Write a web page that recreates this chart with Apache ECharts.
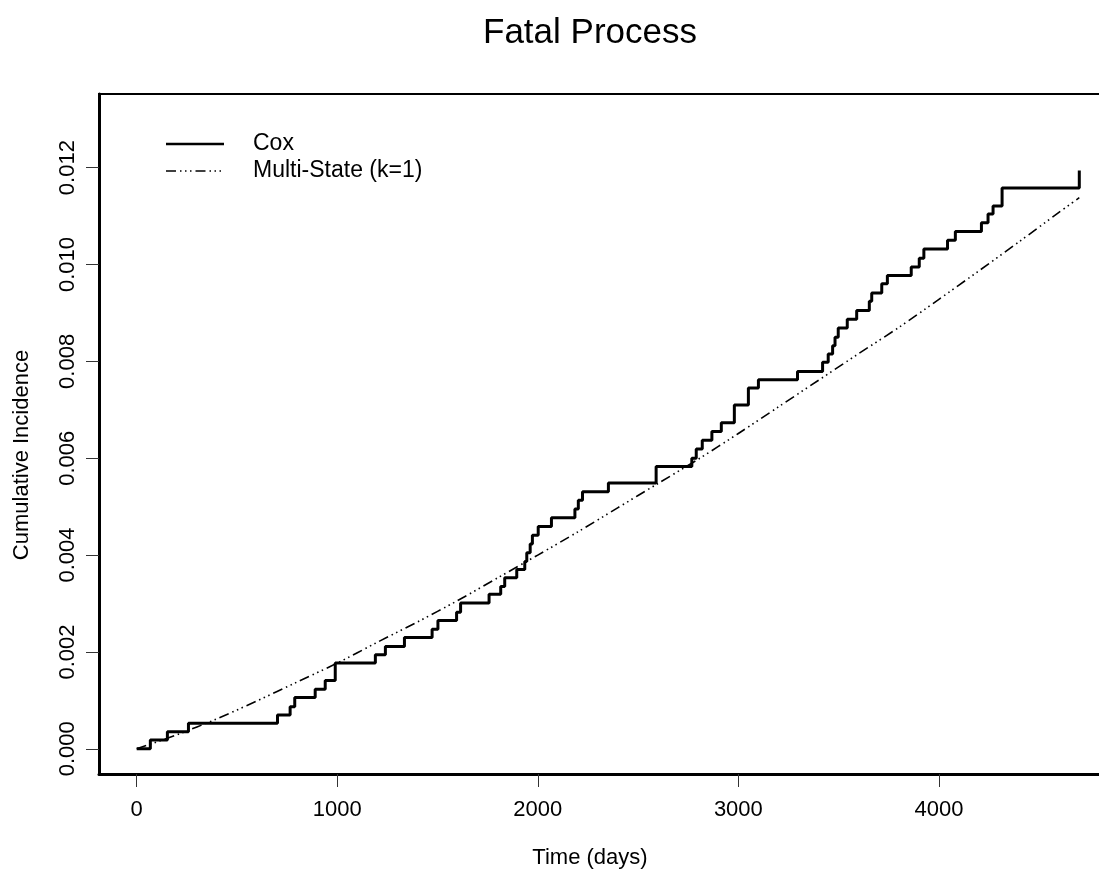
<!DOCTYPE html>
<html>
<head>
<meta charset="utf-8">
<script src="https://cdn.jsdelivr.net/npm/echarts@6/dist/echarts.min.js"></script>
<style>
html,body{margin:0;padding:0;background:#fff;overflow:hidden;width:1099px;height:876px;}
#chart{width:1117px;height:876px;}
</style>
</head>
<body>
<div id="chart"></div>
<script>
// ---- data ----
var coxTimes = [0, 68, 153, 258, 702, 765, 788, 890, 940, 990, 1190, 1240, 1335, 1473, 1502, 1595, 1615, 1757, 1815, 1835, 1895, 1935, 1945, 1962, 1973, 2002, 2068, 2185, 2202, 2223, 2352, 2590, 2768, 2790, 2820, 2868, 2915, 2980, 3050, 3100, 3295, 3420, 3448, 3470, 3482, 3498, 3543, 3590, 3653, 3665, 3715, 3743, 3862, 3902, 3925, 4043, 4082, 4212, 4245, 4270, 4315, 4700];
var coxValues = [0, 0.00018, 0.00035, 0.00053, 0.00070, 0.00087, 0.00106, 0.00123, 0.00141, 0.00177, 0.00194, 0.00211, 0.00230, 0.00247, 0.00265, 0.00282, 0.00301, 0.00319, 0.00335, 0.00353, 0.00370, 0.00387, 0.00405, 0.00423, 0.00441, 0.00459, 0.00477, 0.00495, 0.00513, 0.00531, 0.00549, 0.00583, 0.00600, 0.00619, 0.00637, 0.00655, 0.00673, 0.00710, 0.00745, 0.00762, 0.00779, 0.00798, 0.00815, 0.00832, 0.00850, 0.00869, 0.00887, 0.00905, 0.00924, 0.00941, 0.00960, 0.00977, 0.00995, 0.01013, 0.01032, 0.01050, 0.01068, 0.01086, 0.01104, 0.01121, 0.01158, 0.01194];
var msTimes = [0, 200, 400, 600, 800, 1000, 1200, 1400, 1600, 1800, 2000, 2200, 2400, 2600, 2800, 3000, 3200, 3400, 3600, 3800, 4000, 4200, 4400, 4600, 4700];
var msValues = [0, 0.00029, 0.00062, 0.00099, 0.00138, 0.00177, 0.00220, 0.00262, 0.00306, 0.00353, 0.00400, 0.00448, 0.00498, 0.00548, 0.00598, 0.00651, 0.00706, 0.00761, 0.00816, 0.00870, 0.00928, 0.00987, 0.01047, 0.01108, 0.01138];
var xTickValues = [0, 1000, 2000, 3000, 4000];
var yTickValues = [0, 0.002, 0.004, 0.006, 0.008, 0.010, 0.012];
var seriesNames = ['Cox', 'Multi-State (k=1)'];
var titleText = 'Fatal Process';
var xTitle = 'Time (days)';
var yTitle = 'Cumulative Incidence';

var FONT = "'Liberation Sans', Arial, Helvetica, sans-serif";
var msDash = [10, 4, 1.5, 3.5, 1.5, 3.5, 1.5, 4];

function zip(a, b) { return a.map(function (v, i) { return [v, b[i]]; }); }

var chart = echarts.init(document.getElementById('chart'), null, { renderer: 'canvas' });
chart.setOption({
  animation: false,
  backgroundColor: '#fff',
  grid: { left: 99, top: 94, right: 0, bottom: 102, show: true, borderColor: '#000', borderWidth: 2, backgroundColor: 'transparent' },
  xAxis: {
    type: 'value', min: -188, max: 4888,
    axisLine: { onZero: false, lineStyle: { color: '#000', width: 3 } },
    axisTick: { customValues: xTickValues, length: 13, lineStyle: { color: '#333', width: 1 } },
    axisLabel: { customValues: xTickValues, color: '#000', fontSize: 22, fontFamily: FONT, margin: 25,
      formatter: function (v) { return String(v); } },
    splitLine: { show: false }
  },
  yAxis: {
    type: 'value', min: -0.00052, max: 0.01352,
    axisLine: { onZero: false, lineStyle: { color: '#000', width: 3 } },
    axisTick: { customValues: yTickValues, length: 13, lineStyle: { color: '#333', width: 1 } },
    axisLabel: { customValues: yTickValues, rotate: 90, color: '#000', fontSize: 22, fontFamily: FONT, margin: 20,
      formatter: function (v) { return v.toFixed(3); } },
    splitLine: { show: false }
  },
  series: [
    { name: seriesNames[0], type: 'line', step: 'end', data: zip(coxTimes, coxValues), showSymbol: false,
      lineStyle: { color: '#000', width: 3 }, z: 3 },
    { name: seriesNames[1], type: 'line', smooth: 0.3, data: zip(msTimes, msValues), showSymbol: false,
      lineStyle: { color: '#000', width: 1.6, type: msDash }, z: 2 }
  ],
  graphic: [
    { type: 'text', x: 590, y: 33, style: { text: titleText, font: '35px ' + FONT, fill: '#000', textAlign: 'center', textVerticalAlign: 'middle' } },
    { type: 'text', x: 590, y: 858, style: { text: xTitle, font: '22px ' + FONT, fill: '#000', textAlign: 'center', textVerticalAlign: 'middle' } },
    { type: 'text', x: 22, y: 455, rotation: Math.PI / 2, style: { text: yTitle, font: '22px ' + FONT, fill: '#000', textAlign: 'center', textVerticalAlign: 'middle' } },
    { type: 'line', shape: { x1: 166, y1: 144, x2: 224, y2: 144 }, style: { stroke: '#000', lineWidth: 2.5 } },
    { type: 'line', shape: { x1: 166, y1: 171, x2: 224, y2: 171 }, style: { stroke: '#000', lineWidth: 1.6, lineDash: msDash } },
    { type: 'text', x: 253, y: 144, style: { text: seriesNames[0], font: '23px ' + FONT, fill: '#000', textAlign: 'left', textVerticalAlign: 'middle' } },
    { type: 'text', x: 253, y: 171, style: { text: seriesNames[1], font: '23px ' + FONT, fill: '#000', textAlign: 'left', textVerticalAlign: 'middle' } }
  ]
});
</script>
</body>
</html>
